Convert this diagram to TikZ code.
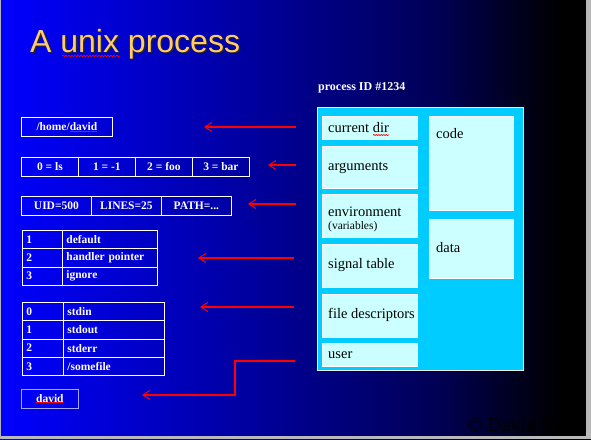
\documentclass[tikz,border=0pt]{standalone}
\usepackage{fontspec}
\setmainfont{Liberation Serif}
\newfontfamily\arialf{Liberation Sans}
\usetikzlibrary{arrows.meta,decorations.pathmorphing}
\definecolor{titleorange}{RGB}{255,204,102}
\definecolor{proccyan}{RGB}{0,204,255}
\definecolor{lightcyan}{RGB}{204,255,255}
\definecolor{bgc0}{RGB}{0,0,255}
\definecolor{bgc1}{RGB}{0,0,140}
\definecolor{bgc2}{RGB}{0,0,85}
\definecolor{bgc3}{RGB}{0,0,0}
\pgfdeclarehorizontalshading{bgshade}{100bp}{color(0bp)=(bgc0); color(25bp)=(bgc0); color(50bp)=(bgc1); color(62bp)=(bgc2); color(72.4bp)=(bgc3); color(75bp)=(bgc3); color(100bp)=(bgc3)}
\newcommand\lftfont{\bfseries\fontsize{11.5}{13}\selectfont}
\newcommand\pftfont{\fontsize{14.5}{16}\selectfont}
\begin{document}
\begin{tikzpicture}[x=1pt,y=-1pt,
  lcell/.style={draw=white, line width=0.8pt, text=white, font=\lftfont, inner sep=0pt, anchor=north west, minimum height=19pt},
  tcell/.style={lcell, align=left, text width=#1, inner xsep=4pt, minimum height=18.33pt},
  pbox/.style={draw=white, line width=0.6pt, fill=lightcyan, anchor=north west, minimum width=95pt, inner sep=0pt},
  ptext/.style={text=black, font=\pftfont, inner sep=0pt, anchor=west, align=left},
  redarrow/.style={draw=red, line width=2pt, -{Straight Barb[length=7pt,width=9pt,line width=1pt]}},
  spell/.style={draw=red, line width=0.6pt}
]
\useasboundingbox (0,0) rectangle (591,439);
\fill[shading=bgshade] (0,0) rectangle (591,439);

% title
\node[anchor=base west, font=\arialf\fontsize{32}{36}\selectfont, text=black!85, inner sep=0pt] (titleshadow) at (31.5,53.5) {A unix process};
\node[anchor=base west, font=\arialf\fontsize{32}{36}\selectfont, text=titleorange, inner sep=0pt] (title) at (30,52) {A unix process};
\draw[spell, decorate, decoration={snake, amplitude=0.8pt, segment length=3pt}] (62,56) -- (120,56);

% left side structures
\node[lcell, minimum width=91pt] (home) at (21,117) {/home/david};
\draw[spell] (70,131) -- (97,131);

\node[lcell, minimum width=57pt] (arg0) at (21,157) {0 = ls};
\node[lcell, minimum width=57pt] (arg1) at (78,157) {1 = -1};
\node[lcell, minimum width=57pt] (arg2) at (135,157) {2 = foo};
\node[lcell, minimum width=57pt] (arg3) at (192,157) {3 = bar};

\node[lcell, minimum width=70pt] (env0) at (21,196) {UID=500};
\node[lcell, minimum width=70pt] (env1) at (91,196) {LINES=25};
\node[lcell, minimum width=70pt] (env2) at (161,196) {PATH=...};

\node[tcell=32pt] (s1a) at (22,230) {1};
\node[tcell=87pt] (s1b) at (62,230) {default};
\node[tcell=32pt] (s2a) at (22,248.33) {2};
\node[tcell=87pt] (s2b) at (62,248.33) {handler pointer};
\node[tcell=32pt] (s3a) at (22,266.67) {3};
\node[tcell=87pt] (s3b) at (62,266.67) {ignore};

\node[tcell=33pt] (f0a) at (22,302) {0};
\node[tcell=93pt] (f0b) at (63,302) {stdin};
\node[tcell=33pt] (f1a) at (22,320.25) {1};
\node[tcell=93pt] (f1b) at (63,320.25) {stdout};
\node[tcell=33pt] (f2a) at (22,338.5) {2};
\node[tcell=93pt] (f2b) at (63,338.5) {stderr};
\node[tcell=33pt] (f3a) at (22,356.75) {3};
\node[tcell=93pt] (f3b) at (63,356.75) {/somefile};

\node[lcell, draw=white!65!blue, minimum width=57pt] (david) at (21,389) {david};
\draw[spell] (36,402) -- (63,402);

% process box
\node[anchor=base west, text=white, font=\bfseries\fontsize{12}{14}\selectfont, inner sep=0pt] (pid) at (318,90) {process ID \#1234};
\node[draw=white!85!gray, line width=1pt, fill=proccyan, minimum width=206pt, minimum height=263pt, anchor=north west, inner sep=0pt] (proc) at (317,107) {};

\node[pbox, minimum height=23pt] (cur) at (322,116) {};
\node[pbox, minimum height=42pt] (args) at (322,146) {};
\node[pbox, minimum height=43pt] (envb) at (322,194) {};
\node[pbox, minimum height=43pt] (sig) at (322,244) {};
\node[pbox, minimum height=43pt] (fds) at (322,294) {};
\node[pbox, minimum height=23pt] (usr) at (322,343) {};
\node[pbox, minimum width=84pt, minimum height=94pt] (code) at (429,116) {};
\node[pbox, minimum width=84pt, minimum height=59pt] (data) at (429,219) {};

\node[ptext] (tcur) at ([xshift=6pt]cur.west) {current dir};
\draw[spell, decorate, decoration={snake, amplitude=0.6pt, segment length=2.5pt}] (373,135) -- (389,135);
\node[ptext] (targs) at ([xshift=6pt,yshift=-1pt]args.west) {arguments};
\node[ptext] (tenv) at ([xshift=6pt,yshift=-4pt]envb.west) {environment\\[-3pt]{\fontsize{11.5}{13}\selectfont(variables)}};
\node[ptext] (tsig) at ([xshift=6pt,yshift=1pt]sig.west) {signal table};
\node[ptext] (tfds) at ([xshift=6pt,yshift=1pt]fds.west) {file descriptors};
\node[ptext] (tusr) at ([xshift=6pt]usr.west) {user};
\node[ptext, anchor=base west] (tcode) at (436,138) {code};
\node[ptext, anchor=base west] (tdata) at (436,252) {data};

% arrows
\coordinate (a1s) at (296,127); \coordinate (a1e) at (204,127);
\coordinate (a2s) at (296,165); \coordinate (a2e) at (268,165);
\coordinate (a3s) at (296,204); \coordinate (a3e) at (248,204);
\coordinate (a4s) at (294,258); \coordinate (a4e) at (198,258);
\coordinate (a5s) at (294,307); \coordinate (a5e) at (200,307);
\coordinate (a6s) at (295,361); \coordinate (a6k) at (235,380); \coordinate (a6e) at (142,395);
\draw[redarrow] (a1s) -- (a1e);
\draw[redarrow] (a2s) -- (a2e);
\draw[redarrow] (a3s) -- (a3e);
\draw[redarrow] (a4s) -- (a4e);
\draw[redarrow] (a5s) -- (a5e);
\draw[redarrow] (a6s) -| (a6k) |- (a6e);

% copyright
\node[anchor=base west, font=\fontsize{20}{24}\selectfont, text=black, inner sep=0pt] (copy) at (467,431) {© David Mo};

% screenshot frame
\fill[gray!55] (586,0) rectangle (591,439);
\fill[gray!55] (0,436) rectangle (591,439);
\draw[gray!60, line width=1pt] (0.5,0) -- (0.5,439);
\end{tikzpicture}
\end{document}
